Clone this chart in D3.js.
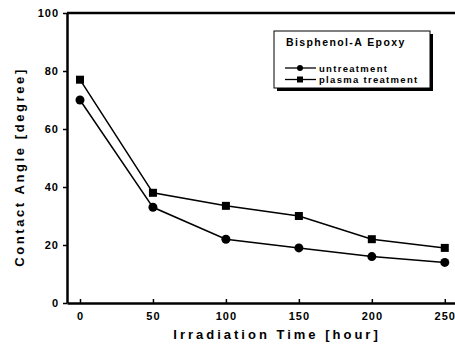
<!DOCTYPE html>
<html>
<head>
<meta charset="utf-8">
<script src="https://cdn.jsdelivr.net/npm/d3@7"></script>
<style>
  body { margin: 0; background: #fff; }
  text { font-family: "Liberation Sans", Arial, sans-serif; font-weight: bold; fill: #000; }
</style>
</head>
<body>
<div id="chart"></div>
<script>
var hours = [0, 50, 100, 150, 200, 250];
var untreatment = [70, 33, 22, 19, 16, 14];
var plasma = [77, 38, 33.5, 30, 22, 19];
var xTicks = [0, 50, 100, 150, 200, 250];
var yTicks = [0, 20, 40, 60, 80, 100];

var margin = {top: 13, left: 67, right: 0, bottom: 41},
    width  = 455 - margin.left - margin.right,
    height = 344 - margin.top  - margin.bottom;

var x = d3.scaleLinear().domain([-8.9, 257]).range([0, width]);
var y = d3.scaleLinear().domain([0, 100]).range([height, 0]);

var svg = d3.select("#chart").append("svg")
    .attr("width", 455).attr("height", 344);

var g = svg.append("g").attr("transform", "translate(" + margin.left + "," + margin.top + ")");

// axes
var xAxis = g.append("g")
  .attr("transform", "translate(0," + height + ")")
  .call(d3.axisBottom(x).tickValues(xTicks).tickSizeInner(-4).tickSizeOuter(0).tickPadding(9));
var yAxis = g.append("g")
  .call(d3.axisLeft(y).tickValues(yTicks).tickSizeInner(4).tickSizeOuter(0).tickPadding(4));

[xAxis, yAxis].forEach(function(a) {
  a.select(".domain").attr("stroke-width", 2.5);
  a.selectAll(".tick line").attr("stroke-width", 1.5);
  a.selectAll(".tick text").style("font-size", "11px").style("font-weight", "bold")
    .style("letter-spacing", "1px")
    .style("font-family", "Liberation Sans, Arial, sans-serif");
});

// top frame line
g.append("line")
  .attr("x1", 0).attr("x2", width).attr("y1", 0).attr("y2", 0)
  .attr("stroke", "#000").attr("stroke-width", 2.5);

var line = d3.line()
  .x(function(d, i) { return x(hours[i]); })
  .y(function(d) { return y(d); });

[untreatment, plasma].forEach(function(s) {
  g.append("path").datum(s)
    .attr("d", line).attr("fill", "none")
    .attr("stroke", "#000").attr("stroke-width", 1.5);
});

g.selectAll(".c").data(untreatment).enter().append("circle")
  .attr("cx", function(d, i) { return x(hours[i]); })
  .attr("cy", function(d) { return y(d); })
  .attr("r", 4.5).attr("fill", "#000");

g.selectAll(".s").data(plasma).enter().append("rect")
  .attr("x", function(d, i) { return x(hours[i]) - 4; })
  .attr("y", function(d) { return y(d) - 4; })
  .attr("width", 8).attr("height", 8).attr("fill", "#000");

// axis titles
svg.append("text")
  .attr("x", 277).attr("y", 339)
  .attr("text-anchor", "middle")
  .style("font-size", "13px").style("letter-spacing", "3px")
  .text("Irradiation Time [hour]");

svg.append("text")
  .attr("transform", "translate(24,167) rotate(-90)")
  .attr("text-anchor", "middle")
  .style("font-size", "13px").style("letter-spacing", "2.6px")
  .text("Contact Angle [degree]");

// legend
var lg = svg.append("g").attr("transform", "translate(274,31)");
lg.append("rect").attr("x", 3).attr("y", 3).attr("width", 156).attr("height", 57).attr("fill", "#000");
lg.append("rect").attr("x", 0).attr("y", 0).attr("width", 156).attr("height", 57)
  .attr("fill", "#fff").attr("stroke", "#000").attr("stroke-width", 1);
lg.append("text").attr("x", 12).attr("y", 15).style("font-size", "10.5px").style("letter-spacing", "1.4px")
  .text("Bisphenol-A Epoxy");

var entries = [{name: "untreatment", shape: "circle"}, {name: "plasma treatment", shape: "square"}];
entries.forEach(function(e, i) {
  var yy = 37 + i * 11.5;
  lg.append("line").attr("x1", 11).attr("x2", 42).attr("y1", yy).attr("y2", yy)
    .attr("stroke", "#000").attr("stroke-width", 1.3);
  if (e.shape === "circle") {
    lg.append("circle").attr("cx", 26).attr("cy", yy).attr("r", 3).attr("fill", "#000");
  } else {
    lg.append("rect").attr("x", 23).attr("y", yy - 3).attr("width", 6).attr("height", 6).attr("fill", "#000");
  }
  lg.append("text").attr("x", 45).attr("y", yy + 3.5).style("font-size", "9.5px").style("letter-spacing", "1.3px")
    .text(e.name);
});
</script>
</body>
</html>
